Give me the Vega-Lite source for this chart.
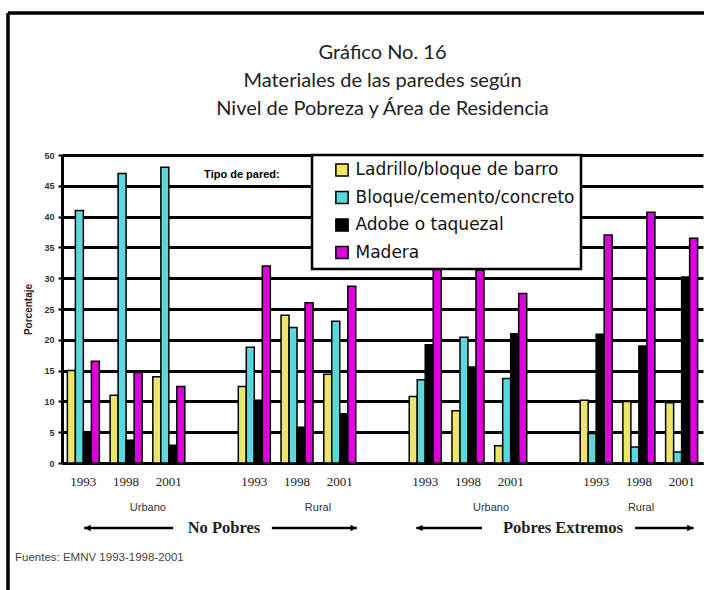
{
  "$schema": "https://vega.github.io/schema/vega-lite/v6.json",
  "width": 641,
  "height": 308,
  "autosize": {"type": "none"},
  "padding": {"left": 62, "top": 155, "right": 1, "bottom": 127},
  "background": "white",
  "title": {
    "text": ["Gráfico No. 16", "Materiales de las paredes según", "Nivel de Pobreza y Área de Residencia"],
    "font": "Lato", "fontSize": 20, "fontWeight": "normal", "color": "#222",
    "lineHeight": 28, "anchor": "middle", "offset": -108
  },
  "config": {"view": {"stroke": null}},
  "data": {"values": [
    {"slot": "NP-U-1993", "material": "Ladrillo/bloque de barro", "pct": 15},
    {"slot": "NP-U-1993", "material": "Bloque/cemento/concreto", "pct": 41},
    {"slot": "NP-U-1993", "material": "Adobe o taquezal", "pct": 5},
    {"slot": "NP-U-1993", "material": "Madera", "pct": 16.5},
    {"slot": "NP-U-1998", "material": "Ladrillo/bloque de barro", "pct": 11},
    {"slot": "NP-U-1998", "material": "Bloque/cemento/concreto", "pct": 47},
    {"slot": "NP-U-1998", "material": "Adobe o taquezal", "pct": 3.7},
    {"slot": "NP-U-1998", "material": "Madera", "pct": 14.7},
    {"slot": "NP-U-2001", "material": "Ladrillo/bloque de barro", "pct": 14},
    {"slot": "NP-U-2001", "material": "Bloque/cemento/concreto", "pct": 48},
    {"slot": "NP-U-2001", "material": "Adobe o taquezal", "pct": 2.9},
    {"slot": "NP-U-2001", "material": "Madera", "pct": 12.4},
    {"slot": "NP-R-1993", "material": "Ladrillo/bloque de barro", "pct": 12.4},
    {"slot": "NP-R-1993", "material": "Bloque/cemento/concreto", "pct": 18.8},
    {"slot": "NP-R-1993", "material": "Adobe o taquezal", "pct": 10.2},
    {"slot": "NP-R-1993", "material": "Madera", "pct": 32},
    {"slot": "NP-R-1998", "material": "Ladrillo/bloque de barro", "pct": 24},
    {"slot": "NP-R-1998", "material": "Bloque/cemento/concreto", "pct": 22},
    {"slot": "NP-R-1998", "material": "Adobe o taquezal", "pct": 5.8},
    {"slot": "NP-R-1998", "material": "Madera", "pct": 26},
    {"slot": "NP-R-2001", "material": "Ladrillo/bloque de barro", "pct": 14.4},
    {"slot": "NP-R-2001", "material": "Bloque/cemento/concreto", "pct": 23},
    {"slot": "NP-R-2001", "material": "Adobe o taquezal", "pct": 8},
    {"slot": "NP-R-2001", "material": "Madera", "pct": 28.7},
    {"slot": "PE-U-1993", "material": "Ladrillo/bloque de barro", "pct": 10.8},
    {"slot": "PE-U-1993", "material": "Bloque/cemento/concreto", "pct": 13.5},
    {"slot": "PE-U-1993", "material": "Adobe o taquezal", "pct": 19.2},
    {"slot": "PE-U-1993", "material": "Madera", "pct": 32.8},
    {"slot": "PE-U-1998", "material": "Ladrillo/bloque de barro", "pct": 8.5},
    {"slot": "PE-U-1998", "material": "Bloque/cemento/concreto", "pct": 20.4},
    {"slot": "PE-U-1998", "material": "Adobe o taquezal", "pct": 15.6},
    {"slot": "PE-U-1998", "material": "Madera", "pct": 31.3},
    {"slot": "PE-U-2001", "material": "Ladrillo/bloque de barro", "pct": 2.8},
    {"slot": "PE-U-2001", "material": "Bloque/cemento/concreto", "pct": 13.7},
    {"slot": "PE-U-2001", "material": "Adobe o taquezal", "pct": 21},
    {"slot": "PE-U-2001", "material": "Madera", "pct": 27.5},
    {"slot": "PE-R-1993", "material": "Ladrillo/bloque de barro", "pct": 10.2},
    {"slot": "PE-R-1993", "material": "Bloque/cemento/concreto", "pct": 4.8},
    {"slot": "PE-R-1993", "material": "Adobe o taquezal", "pct": 20.9},
    {"slot": "PE-R-1993", "material": "Madera", "pct": 37},
    {"slot": "PE-R-1998", "material": "Ladrillo/bloque de barro", "pct": 10},
    {"slot": "PE-R-1998", "material": "Bloque/cemento/concreto", "pct": 2.6},
    {"slot": "PE-R-1998", "material": "Adobe o taquezal", "pct": 19},
    {"slot": "PE-R-1998", "material": "Madera", "pct": 40.7},
    {"slot": "PE-R-2001", "material": "Ladrillo/bloque de barro", "pct": 9.8},
    {"slot": "PE-R-2001", "material": "Bloque/cemento/concreto", "pct": 1.8},
    {"slot": "PE-R-2001", "material": "Adobe o taquezal", "pct": 30.2},
    {"slot": "PE-R-2001", "material": "Madera", "pct": 36.5}
  ]},
  "resolve": {"scale": {"x": "independent"}, "axis": {"x": "independent", "y": "independent"}},
  "layer": [
    {
      "mark": {"type": "bar", "stroke": "black", "strokeWidth": 1.5},
      "encoding": {
        "x": {
          "field": "slot", "type": "nominal",
          "scale": {"domain": ["NP-U-1993", "NP-U-1998", "NP-U-2001", "g1", "NP-R-1993", "NP-R-1998", "NP-R-2001", "g2", "PE-U-1993", "PE-U-1998", "PE-U-2001", "g3", "PE-R-1993", "PE-R-1998", "PE-R-2001"], "paddingInner": 0, "paddingOuter": 0},
          "axis": {"title": null, "ticks": false, "domainColor": "black", "domainWidth": 3, "labelAngle": 0, "zindex": 0,
            "labelExpr": "length(datum.value) > 4 ? slice(datum.value, -4) : ''",
            "labelFont": "Liberation Serif", "labelFontSize": 13, "labelColor": "#1a1a1a", "labelPadding": 12}
        },
        "xOffset": {
          "field": "material", "type": "nominal",
          "sort": ["Ladrillo/bloque de barro", "Bloque/cemento/concreto", "Adobe o taquezal", "Madera"],
          "scale": {"paddingOuter": 0.67, "paddingInner": 0}
        },
        "y": {
          "field": "pct", "type": "quantitative",
          "scale": {"domain": [0, 50], "nice": false},
          "axis": {"title": "Porcentaje", "values": [0, 5, 10, 15, 20, 25, 30, 35, 40, 45, 50], "zindex": 0,
            "grid": true, "gridColor": "#000000", "gridWidth": 3, "gridOpacity": 1,
            "domainColor": "black", "domainWidth": 3, "tickColor": "black", "tickSize": 4, "tickWidth": 2,
            "labelFont": "Liberation Sans", "labelFontSize": 9, "labelFontWeight": "bold", "labelColor": "#333", "labelPadding": 4,
            "titleFont": "Liberation Sans", "titleFontSize": 10, "titleFontWeight": "bold", "titleColor": "#222", "titlePadding": 10}
        },
        "color": {
          "field": "material", "type": "nominal",
          "scale": {"domain": ["Ladrillo/bloque de barro", "Bloque/cemento/concreto", "Adobe o taquezal", "Madera"], "range": ["#EDE56B", "#5ED6DE", "#000000", "#DD00DD"]},
          "legend": {"title": null, "orient": "none", "legendX": 250, "legendY": 0,
            "symbolType": "square", "symbolSize": 150, "symbolStrokeColor": "black", "symbolStrokeWidth": 1.5,
            "labelFont": "DejaVu Sans", "labelFontSize": 17, "labelColor": "#111", "labelOffset": 5, "labelLimit": 400,
            "padding": 6.5, "rowPadding": 8.5, "symbolOffset": 15,
            "fillColor": "white", "strokeColor": "black",
            "encode": {"legend": {"update": {"strokeWidth": {"value": 2.5}}}}}
        }
      }
    },
    {
      "data": {"values": [{}]},
      "layer": [
        {"mark": {"type": "text", "text": "Tipo de pared:", "font": "Liberation Sans", "fontWeight": "bold", "fontSize": 11, "color": "black", "baseline": "middle"},
         "encoding": {"x": {"datum": 4.21, "type": "quantitative", "scale": {"domain": [0, 15], "nice": false, "zero": false}, "axis": null},
                      "y": {"datum": 46.75, "type": "quantitative", "scale": {"domain": [0, 50], "nice": false}, "axis": null}}},
        {"mark": {"type": "text", "text": "Urbano", "font": "Liberation Sans", "fontSize": 11, "color": "#333", "baseline": "middle"},
         "encoding": {"x": {"datum": 2.01, "type": "quantitative", "axis": null}, "y": {"datum": -7.3, "type": "quantitative", "axis": null}}},
        {"mark": {"type": "text", "text": "Rural", "font": "Liberation Sans", "fontSize": 11, "color": "#333", "baseline": "middle"},
         "encoding": {"x": {"datum": 5.99, "type": "quantitative", "axis": null}, "y": {"datum": -7.3, "type": "quantitative", "axis": null}}},
        {"mark": {"type": "text", "text": "Urbano", "font": "Liberation Sans", "fontSize": 11, "color": "#333", "baseline": "middle"},
         "encoding": {"x": {"datum": 10.04, "type": "quantitative", "axis": null}, "y": {"datum": -7.3, "type": "quantitative", "axis": null}}},
        {"mark": {"type": "text", "text": "Rural", "font": "Liberation Sans", "fontSize": 11, "color": "#333", "baseline": "middle"},
         "encoding": {"x": {"datum": 13.55, "type": "quantitative", "axis": null}, "y": {"datum": -7.3, "type": "quantitative", "axis": null}}},
        {"mark": {"type": "text", "text": "No Pobres", "font": "Liberation Serif", "fontWeight": "bold", "fontSize": 16.5, "color": "#222", "baseline": "middle"},
         "encoding": {"x": {"datum": 3.79, "type": "quantitative", "axis": null}, "y": {"datum": -10.55, "type": "quantitative", "axis": null}}},
        {"mark": {"type": "text", "text": "Pobres Extremos", "font": "Liberation Serif", "fontWeight": "bold", "fontSize": 16.5, "color": "#222", "baseline": "middle"},
         "encoding": {"x": {"datum": 11.72, "type": "quantitative", "axis": null}, "y": {"datum": -10.55, "type": "quantitative", "axis": null}}},
        {"mark": {"type": "text", "text": "Fuentes: EMNV 1993-1998-2001", "font": "Liberation Sans", "fontSize": 11.5, "color": "#444", "align": "left", "baseline": "middle"},
         "encoding": {"x": {"datum": -1.1, "type": "quantitative", "axis": null}, "y": {"datum": -15.42, "type": "quantitative", "axis": null}}},
        {"mark": {"type": "rule", "color": "black", "strokeWidth": 2.5},
         "encoding": {"x": {"datum": 0.52, "type": "quantitative", "axis": null}, "x2": {"datum": 2.6}, "y": {"datum": -10.55, "type": "quantitative", "axis": null}}},
        {"mark": {"type": "rule", "color": "black", "strokeWidth": 2.5},
         "encoding": {"x": {"datum": 4.91, "type": "quantitative", "axis": null}, "x2": {"datum": 6.9}, "y": {"datum": -10.55, "type": "quantitative", "axis": null}}},
        {"mark": {"type": "rule", "color": "black", "strokeWidth": 2.5},
         "encoding": {"x": {"datum": 8.29, "type": "quantitative", "axis": null}, "x2": {"datum": 9.83}, "y": {"datum": -10.55, "type": "quantitative", "axis": null}}},
        {"mark": {"type": "rule", "color": "black", "strokeWidth": 2.5},
         "encoding": {"x": {"datum": 13.41, "type": "quantitative", "axis": null}, "x2": {"datum": 14.78}, "y": {"datum": -10.55, "type": "quantitative", "axis": null}}},
        {"mark": {"type": "point", "shape": "triangle-left", "filled": true, "color": "black", "size": 45, "opacity": 1},
         "encoding": {"x": {"datum": 0.6, "type": "quantitative", "axis": null}, "y": {"datum": -10.55, "type": "quantitative", "axis": null}}},
        {"mark": {"type": "point", "shape": "triangle-right", "filled": true, "color": "black", "size": 45, "opacity": 1},
         "encoding": {"x": {"datum": 6.82, "type": "quantitative", "axis": null}, "y": {"datum": -10.55, "type": "quantitative", "axis": null}}},
        {"mark": {"type": "point", "shape": "triangle-left", "filled": true, "color": "black", "size": 45, "opacity": 1},
         "encoding": {"x": {"datum": 8.37, "type": "quantitative", "axis": null}, "y": {"datum": -10.55, "type": "quantitative", "axis": null}}},
        {"mark": {"type": "point", "shape": "triangle-right", "filled": true, "color": "black", "size": 45, "opacity": 1},
         "encoding": {"x": {"datum": 14.7, "type": "quantitative", "axis": null}, "y": {"datum": -10.55, "type": "quantitative", "axis": null}}},
        {"mark": {"type": "rule", "color": "black", "strokeWidth": 3.5},
         "encoding": {"x": {"datum": -1.264, "type": "quantitative", "axis": null}, "x2": {"datum": 15.1}, "y": {"datum": 73.05, "type": "quantitative", "axis": null}}},
        {"mark": {"type": "rule", "color": "black", "strokeWidth": 3.5},
         "encoding": {"x": {"datum": -1.264, "type": "quantitative", "axis": null}, "y": {"datum": 73.05, "type": "quantitative", "axis": null}, "y2": {"datum": -22}}}
      ]
    }
  ]
}
